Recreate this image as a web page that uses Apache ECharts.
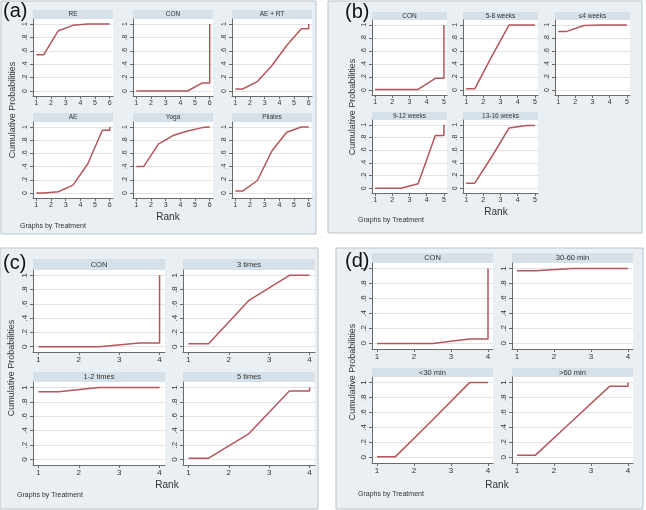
<!DOCTYPE html>
<html>
<head>
<meta charset="utf-8">
<script src="https://cdn.jsdelivr.net/npm/echarts@6/dist/echarts.min.js"></script>
<style>
html, body { margin: 0; padding: 0; background: #fff; }
#chart { width: 646px; height: 510px; }
</style>
</head>
<body>
<div id="chart"></div>
<script>
// rank positions used by the cumulative ranking plot (n treatments)
var rank6 = [1, 1.5, 2.5, 3.5, 4.5, 5.5, 6, 6];
var rank5 = [1, 1.5, 2.5, 3.5, 4.5, 5, 5];
var rank4 = [1, 1.5, 2.5, 3.5, 4, 4];

var ticks6 = [1, 2, 3, 4, 5, 6];
var ticks5 = [1, 2, 3, 4, 5];
var ticks4 = [1, 2, 3, 4];

var yTicks = [0, 0.2, 0.4, 0.6, 0.8, 1];
var yTickLabels = ['0', '.2', '.4', '.6', '.8', '1'];

// (a) exercise type
var namesA = ['RE', 'CON', 'AE + RT', 'AE', 'Yoga', 'Pilates'];
var aRE = [0.54, 0.54, 0.90, 0.98, 1.00, 1.00, 1.00, 1.00];
var aCON = [0.00, 0.00, 0.00, 0.00, 0.00, 0.12, 0.12, 1.00];
var aAERT = [0.03, 0.03, 0.14, 0.38, 0.68, 0.93, 0.93, 1.00];
var aAE = [0.00, 0.00, 0.02, 0.12, 0.44, 0.95, 0.95, 1.00];
var aYoga = [0.40, 0.40, 0.74, 0.87, 0.94, 0.99, 1.00, 1.00];
var aPilates = [0.03, 0.03, 0.19, 0.64, 0.92, 1.00, 1.00, 1.00];

// (b) duration in weeks
var namesB = ['CON', '5-8 weeks', '≤4 weeks', '9-12 weeks', '13-16 weeks'];
var bCON = [0.01, 0.01, 0.01, 0.01, 0.18, 0.18, 1.00];
var bW58 = [0.02, 0.02, 0.52, 1.00, 1.00, 1.00, 1.00];
var bW4 = [0.90, 0.90, 0.99, 1.00, 1.00, 1.00, 1.00];
var bW912 = [0.00, 0.00, 0.00, 0.07, 0.83, 0.83, 1.00];
var bW1316 = [0.08, 0.08, 0.50, 0.95, 0.99, 0.99, 1.00];

// (c) frequency per week
var namesC = ['CON', '3 times', '1-2 times', '5 times'];
var cCON = [0.00, 0.00, 0.00, 0.05, 0.05, 1.00];
var c3 = [0.04, 0.04, 0.65, 1.00, 1.00, 1.00];
var c12 = [0.94, 0.94, 1.00, 1.00, 1.00, 1.00];
var c5 = [0.02, 0.02, 0.36, 0.95, 0.95, 1.00];

// (d) session length
var namesD = ['CON', '30-60 min', '<30 min', '>60 min'];
var dCON = [0.00, 0.00, 0.00, 0.06, 0.06, 1.00];
var d3060 = [0.97, 0.97, 1.00, 1.00, 1.00, 1.00];
var dLt30 = [0.01, 0.01, 0.50, 1.00, 1.00, 1.00];
var dGt60 = [0.03, 0.03, 0.49, 0.95, 0.95, 1.00];

var lineColor = '#b4565a';
var axisColor = '#6b6b6b';
var font = '"Liberation Sans", Arial, sans-serif';

// layout of each panel: box, subplot cells, annotation positions
var panels = [
	{
		label: '(a)', box: [1, 1, 315, 233], x: rank6, ticks: ticks6, names: namesA,
		series: [aRE, aCON, aAERT, aAE, aYoga, aPilates],
		cols: [33, 133, 232], w: 80,
		rows: [[10, 19, 77], [113, 122, 76]], fs: 7,
		lab: [3, 1], ytitle: [13, 110], rank: [168, 217], note: [20, 226]
	},
	{
		label: '(b)', box: [328, 1, 314, 232], x: rank5, ticks: ticks5, names: namesB,
		series: [bCON, bW58, bW4, bW912, bW1316],
		cols: [372, 463, 555], w: 75,
		rows: [[12, 20, 75], [112, 120, 73]], fs: 7,
		lab: [345, 2], ytitle: [353, 107], rank: [496, 212], note: [358, 220]
	},
	{
		label: '(c)', box: [0, 248, 318, 261], x: rank4, ticks: ticks4, names: namesC,
		series: [cCON, c3, c12, c5],
		cols: [33, 183], w: 132,
		rows: [[259, 270, 82], [372, 382, 83]], fs: 8,
		lab: [3, 253], ytitle: [12, 368], rank: [167, 485], note: [17, 495]
	},
	{
		label: '(d)', box: [336, 248, 307, 261], x: rank4, ticks: ticks4, names: namesD,
		series: [dCON, d3060, dLt30, dGt60],
		cols: [372, 512], w: 121,
		rows: [[253, 263, 86], [368, 377, 86]], fs: 8,
		lab: [345, 251], ytitle: [353, 372], rank: [497, 485], note: [358, 494]
	}
];

var grids = [], xAxes = [], yAxes = [], seriesList = [], graphics = [];

panels.forEach(function(p) {
	graphics.push({
		type: 'rect', z: -10,
		shape: { x: p.box[0], y: p.box[1], width: p.box[2], height: p.box[3] },
		style: { fill: '#e9eff3', stroke: '#b9c3c9', lineWidth: 1 }
	});
	graphics.push({
		type: 'text', z: 100, x: p.lab[0], y: p.lab[1],
		style: { text: p.label, font: '20px ' + font, fill: '#111' }
	});
	graphics.push({
		type: 'text', z: 100, x: p.ytitle[0], y: p.ytitle[1], rotation: Math.PI / 2,
		style: { text: 'Cumulative Probabilities', font: '9px ' + font, fill: '#333',
			textAlign: 'center', textVerticalAlign: 'middle' }
	});
	graphics.push({
		type: 'text', z: 100, x: p.rank[0], y: p.rank[1],
		style: { text: 'Rank', font: '10px ' + font, fill: '#333',
			textAlign: 'center', textVerticalAlign: 'middle' }
	});
	graphics.push({
		type: 'text', z: 100, x: p.note[0], y: p.note[1],
		style: { text: 'Graphs by Treatment', font: '7px ' + font, fill: '#333',
			textVerticalAlign: 'middle' }
	});

	var n = p.ticks[p.ticks.length - 1];
	var pad = (n - 1) * 0.045;
	p.series.forEach(function(ys, k) {
		var col = k % p.cols.length;
		var row = Math.floor(k / p.cols.length);
		var left = p.cols[col], r = p.rows[row];
		var idx = grids.length;

		graphics.push({
			type: 'rect', z: -5,
			shape: { x: left, y: r[0], width: p.w, height: r[1] - r[0] },
			style: { fill: '#d5e0e8' }
		});
		graphics.push({
			type: 'text', z: 100, x: left + p.w / 2, y: (r[0] + r[1]) / 2,
			style: { text: p.names[k], font: (p.fs - 0.5) + 'px ' + font, fill: '#333',
				textAlign: 'center', textVerticalAlign: 'middle' }
		});

		grids.push({
			left: left, top: r[1], width: p.w, height: r[2],
			show: true, backgroundColor: '#fff', borderWidth: 0
		});
		xAxes.push({
			type: 'value', gridIndex: idx, min: 1 - pad, max: n + pad,
			axisLine: { show: true, onZero: false, lineStyle: { color: axisColor } },
			axisTick: { show: true, length: 3, customValues: p.ticks, lineStyle: { color: axisColor } },
			axisLabel: { customValues: p.ticks, fontSize: p.fs, color: '#333', margin: 4,
				fontFamily: font },
			splitLine: { show: false }
		});
		yAxes.push({
			type: 'value', gridIndex: idx, min: -0.075, max: 1.075,
			axisLine: { show: true, onZero: false, lineStyle: { color: axisColor } },
			axisTick: { show: true, length: 3, customValues: yTicks, lineStyle: { color: axisColor } },
			axisLabel: {
				customValues: yTicks, rotate: 90, fontSize: p.fs, color: '#333', margin: 4,
				fontFamily: font,
				formatter: function(v) { return yTickLabels[Math.round(v * 5)]; }
			},
			splitLine: { show: true, lineStyle: { color: '#e3e3e3', width: 1 } }
		});
		seriesList.push({
			type: 'line', xAxisIndex: idx, yAxisIndex: idx,
			data: p.x.map(function(x, i) { return [x, ys[i]]; }),
			showSymbol: false, silent: true,
			lineStyle: { color: lineColor, width: 1.5 }
		});
	});
});

var chart = echarts.init(document.getElementById('chart'));
chart.setOption({
	backgroundColor: '#fff',
	animation: false,
	grid: grids,
	xAxis: xAxes,
	yAxis: yAxes,
	series: seriesList,
	graphic: { elements: graphics }
});
</script>
</body>
</html>
